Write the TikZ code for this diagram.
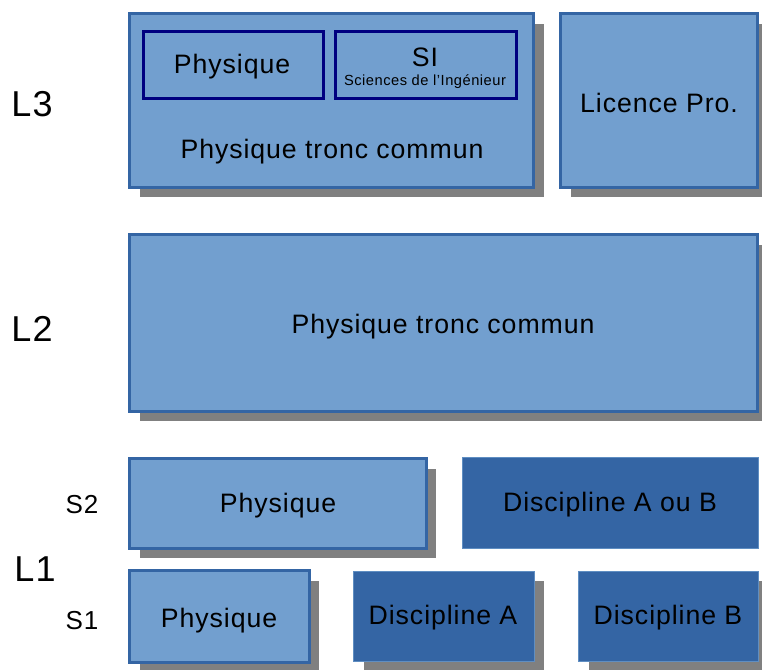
\documentclass[tikz,border=0pt]{standalone}
\usepackage{fontspec}
\setmainfont{Liberation Sans}[LetterSpace=3.5]
\usepackage{tikz}
\usetikzlibrary{shadows}
\definecolor{bleuclair}{HTML}{729FCF}
\definecolor{bleufonce}{HTML}{3465A4}
\definecolor{marine}{HTML}{000080}
\definecolor{ombre}{HTML}{808080}
\tikzset{
  ombree/.style={general shadow={fill=ombre, shadow xshift=7.5pt, shadow yshift=-7.5pt}},
  claire/.style={draw=bleufonce, fill=bleuclair, line width=2.25pt, ombree},
  foncee/.style={draw=bleuclair!70!bleufonce, fill=bleufonce, line width=0.6pt},
  interne/.style={draw=marine, line width=2.25pt},
  texte/.style={font=\fontsize{20}{23}\selectfont, inner sep=0pt},
  niveau/.style={font=\fontsize{27}{30}\selectfont, inner sep=0pt},
  semestre/.style={font=\fontsize{19.5}{22}\selectfont, inner sep=0pt}
}

\begin{document}
\begin{tikzpicture}[x=0.75pt,y=-0.75pt]
            \useasboundingbox (0,0) rectangle (762,669);
            % L3
            \draw[claire] (129.5,13.5) rectangle (533.5,187);
            \draw[interne] (143,31) rectangle (323,98);
            \draw[interne] (335,31) rectangle (516,98);
            \draw[claire] (560.5,13.5) rectangle (757,187);
            \node[texte] (physL3) at (232,67) {Physique};
            \node[texte] (si) at (425,57) {SI};
            \node[inner sep=0pt, font=\fontsize{11}{13}\selectfont] (sci) at (425,82) {Sciences de l'Ingénieur};
            \node[texte] (troncL3) at (332,152) {Physique tronc commun};
            \node[texte] (pro) at (659,103) {Licence Pro.};
            % L2
            \draw[claire] (129.5,234.5) rectangle (757,411);
            \node[texte] (troncL2) at (443,327) {Physique tronc commun};
            % L1, S2
            \draw[claire] (129.5,458.5) rectangle (426,548);
            \draw[foncee] (462,457.5) rectangle (758,548);
            \node[texte] (physS2) at (278,506) {Physique};
            \node[texte] (discAB) at (610,505) {Discipline A ou B};
            % L1, S1
            \draw[claire] (129.5,570.5) rectangle (309,662);
            \draw[foncee, ombree] (353.5,571) rectangle (534,661);
            \draw[foncee, ombree] (578.5,571) rectangle (758,661);
            \node[texte] (physS1) at (219,621) {Physique};
            \node[texte] (discA) at (443,618) {Discipline A};
            \node[texte] (discB) at (668,618) {Discipline B};
            % niveaux
            \node[niveau] (l3) at (32,104) {L3};
            \node[niveau] (l2) at (32,329) {L2};
            \node[niveau] (l1) at (35,569) {L1};
            \node[semestre] (s2) at (82,505) {S2};
            \node[semestre] (s1) at (82,621) {S1};
        \end{tikzpicture}
\end{document}
